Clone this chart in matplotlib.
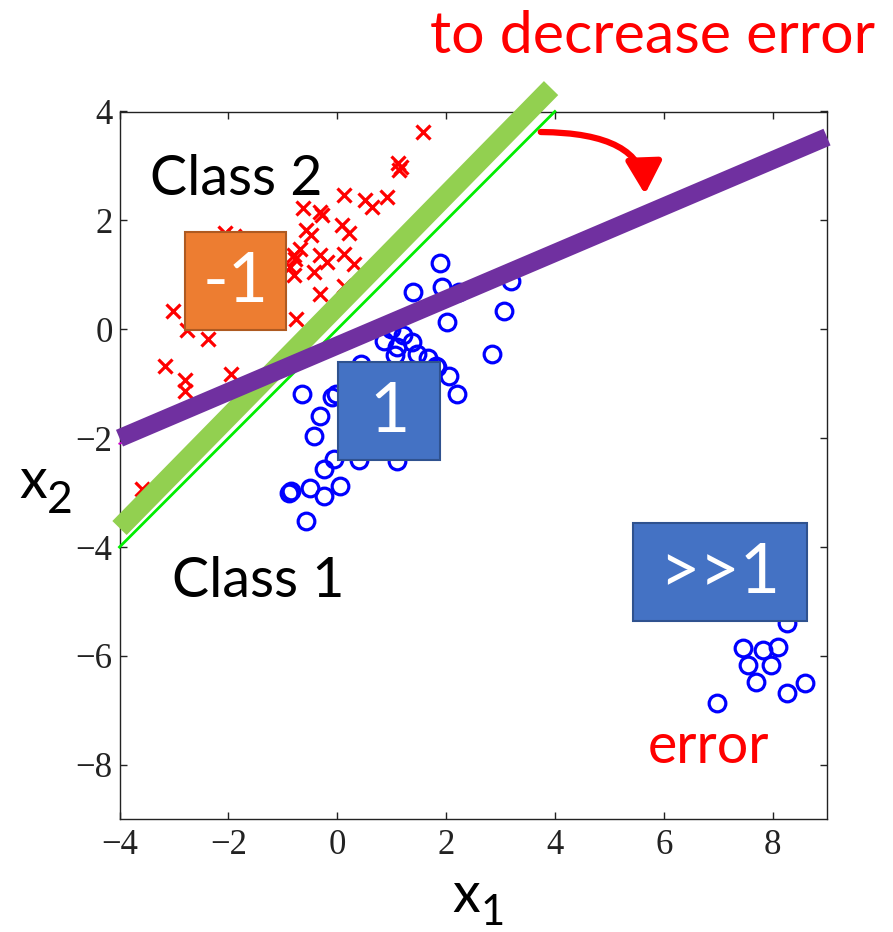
import matplotlib
matplotlib.use("Agg")
import matplotlib.pyplot as plt
from matplotlib.patches import Rectangle, FancyArrowPatch

# ---------------- data ----------------
class2_x = [1.58, 1.12, 1.18, 1.13, 0.13, 0.52, 0.64, 0.92, -0.63, -0.32, -0.28, 0.09, 0.21,
            -0.58, -0.49, -2.06, -1.90, -0.68, -0.80, -0.77, -0.31, -0.18, 0.12, 0.31, -0.86,
            -0.80, -0.43, 0.12, -0.31, -0.75, -3.02, -2.76, -2.38, -3.16, -2.79, -2.79, -1.95,
            -3.59]
class2_y = [3.63, 3.05, 2.98, 2.92, 2.47, 2.38, 2.25, 2.43, 2.22, 2.15, 2.09, 1.91, 1.76,
            1.82, 1.73, 1.76, 1.72, 1.48, 1.36, 1.30, 1.36, 1.23, 1.39, 1.20, 1.14,
            0.99, 1.05, 0.80, 0.65, 0.19, 0.33, -0.02, -0.18, -0.67, -0.94, -1.14, -0.82,
            -2.94]

class1_x = [1.89, 1.40, 1.93, 2.24, 3.19, 3.06, 2.01, 2.85, 0.98, 0.86, 1.10, 1.38, 1.47,
            1.66, 1.07, 1.81, 2.06, 2.21, 0.43, 1.20, 1.84,
            -0.64, -0.03, -0.09, -0.31, -0.43, -0.06, -0.25, 0.40, 1.10, -0.89, -0.85,
            -0.50, 0.06, -0.25, -0.58,
            8.26, 7.46, 7.83, 8.10, 7.55, 7.98, 7.70, 8.26, 8.59, 6.97]
class1_y = [1.22, 0.68, 0.77, 0.68, 0.88, 0.33, 0.13, -0.45, 0.01, -0.21, -0.33, -0.24, -0.45,
            -0.52, -0.48, -0.67, -0.85, -1.19, -0.64, -0.10, -0.70,
            -1.19, -1.19, -1.25, -1.59, -1.96, -2.39, -2.57, -2.40, -2.42, -3.00, -2.97,
            -2.91, -2.88, -3.06, -3.53,
            -5.40, -5.86, -5.89, -5.83, -6.16, -6.16, -6.47, -6.68, -6.50, -6.87]

# decision boundaries (endpoints)
lsq_line_x = [-4.0, 4.0]
lsq_line_y = [-4.0, 4.0]
old_bound_x = [-4.0, 3.93]
old_bound_y = [-3.65, 4.43]
new_bound_x = [-4.0, 9.0]
new_bound_y = [-2.0, 3.53]
new_thin_x = [-4.0, 9.0]
new_thin_y = [-2.1, 3.45]

x_ticks = [-4, -2, 0, 2, 4, 6, 8]
y_ticks = [-8, -6, -4, -2, 0, 2, 4]

# ---------------- figure ----------------
W, H = 893, 932
fig = plt.figure(figsize=(W / 100, H / 100), dpi=100)

def fp(x, y):
    return (x / W, 1 - y / H)

ax = fig.add_axes([119.5 / W, (H - 819.3) / H, (827 - 119.5) / W, (819.3 - 111.5) / H])
ax.set_xlim(-4, 9)
ax.set_ylim(-9, 4)
ax.set_xticks(x_ticks)
ax.set_yticks(y_ticks)
ax.tick_params(direction='in', length=5, width=1.0, top=True, right=True,
               labelsize=25, colors='#222222', pad=7)
ax.tick_params(axis='y', pad=5)
for lab in ax.get_xticklabels() + ax.get_yticklabels():
    lab.set_fontfamily('Liberation Serif')
for s in ax.spines.values():
    s.set_linewidth(1.0)
    s.set_color('#222222')

ax.plot(class2_x, class2_y, 'x', color='#ff0000', ms=10, mew=2.3, zorder=2)
ax.plot(class1_x, class1_y, 'o', color='#0000ff', mfc='none', ms=12, mew=2.3, zorder=2)

ax.plot(lsq_line_x, lsq_line_y, color='#00ee00', lw=2.0, zorder=3, clip_on=False)
ax.plot(old_bound_x, old_bound_y, color='#92d050', lw=14.4, solid_capstyle='butt',
        zorder=4, clip_on=False)
ax.plot(new_thin_x, new_thin_y, color='#cc00cc', lw=1.5, zorder=4, clip_on=False)
ax.plot(new_bound_x, new_bound_y, color='#7030a0', lw=13, solid_capstyle='butt',
        zorder=5, clip_on=False)

# arrow
arr = FancyArrowPatch(fp(538, 132), fp(645, 197), transform=fig.transFigure,
                      connectionstyle="angle3,angleA=0,angleB=90",
                      arrowstyle="-|>,head_length=0.9,head_width=0.5",
                      mutation_scale=22, color='#ff0000', lw=4.5)
fig.add_artist(arr)

# boxes
def box(x0, y0, x1, y1, face, edge, label):
    (fx0, fy1) = fp(x0, y0)
    (fx1, fy0) = fp(x1, y1)
    r = Rectangle((fx0, fy0), fx1 - fx0, fy1 - fy0, transform=fig.transFigure,
                  facecolor=face, edgecolor=edge, lw=1.5, zorder=10)
    fig.add_artist(r)
    fig.text((fx0 + fx1) / 2, (fy0 + fy1) / 2 - 0.002, label, color='white',
             fontsize=50, family='Lato', ha='center', va='center', zorder=11)

box(185, 232, 286, 330, '#ed7d31', '#ae5a21', '-1')
box(338, 362, 440, 460, '#4472c4', '#2f528f', '1')
box(633, 523, 807, 621, '#4472c4', '#2f528f', '>>1')

# texts
fs = 40
fig.text(*fp(430, 53), 'to decrease error', color='#ff0000', fontsize=42.5, family='Lato',
         ha='left', va='baseline')
fig.text(*fp(150, 195), 'Class 2', color='black', fontsize=fs, family='Lato',
         ha='left', va='baseline', zorder=12)
fig.text(*fp(172, 597), 'Class 1', color='black', fontsize=fs, family='Lato',
         ha='left', va='baseline', zorder=12)
fig.text(*fp(648, 763), 'error', color='#ff0000', fontsize=fs, family='Lato',
         ha='left', va='baseline', zorder=12)

# axis labels
fig.text(*fp(19, 498), 'x', color='black', fontsize=fs, family='Lato', ha='left', va='baseline')
fig.text(*fp(47, 513), '2', color='black', fontsize=32, family='Lato', ha='left', va='baseline')
fig.text(*fp(452, 912), 'x', color='black', fontsize=fs, family='Lato', ha='left', va='baseline')
fig.text(*fp(481, 925), '1', color='black', fontsize=30, family='Lato', ha='left', va='baseline')

fig.savefig('out.png', dpi=100)
